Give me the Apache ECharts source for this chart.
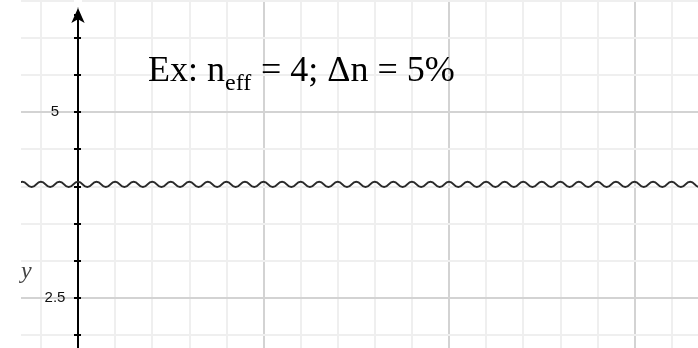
<!DOCTYPE html>
<html>
<head>
<meta charset="utf-8">
<script src="https://cdn.jsdelivr.net/npm/echarts@6/dist/echarts.min.js"></script>
<style>
  html, body { margin: 0; padding: 0; background: #fff; }
  #chart { width: 698px; height: 348px; }
</style>
</head>
<body>
<div id="chart"></div>
<script>
// tick labels drawn next to the y axis
const yLabels = [2.5, 5];

// ripple of n(x) around n_eff = 4, sampled at crests / troughs
const waveStart = -1;
const waveStep = 0.125;
const waveY = [
  4.064, 3.992, 4.064, 3.992, 4.064, 3.992, 4.064, 3.992,
  4.064, 3.992, 4.064, 3.992, 4.064, 3.992, 4.064, 3.992,
  4.064, 3.992, 4.064, 3.992, 4.064, 3.992, 4.064, 3.992,
  4.064, 3.992, 4.064, 3.992, 4.064, 3.992, 4.064, 3.992,
  4.064, 3.992, 4.064, 3.992, 4.064, 3.992, 4.064, 3.992,
  4.064, 3.992, 4.064, 3.992, 4.064, 3.992, 4.064, 3.992,
  4.064, 3.992, 4.064, 3.992, 4.064, 3.992, 4.064, 3.992,
  4.064, 3.992, 4.064, 3.992, 4.064, 3.992, 4.064, 3.992,
  4.064, 3.992, 4.064, 3.992, 4.064, 3.992, 4.064, 3.992,
  4.064, 3.992, 4.064, 3.992, 4.064
];

const waveData = waveY.map((v, i) => [waveStart + i * waveStep, v]);

const chart = echarts.init(document.getElementById('chart'));

const hidden = {
  axisLine: { show: false },
  axisTick: { show: false },
  axisLabel: { show: false }
};
const MINOR = '#efefef';
const MAJOR = '#d3d3d3';
const minorLine = { show: true, lineStyle: { color: MINOR, width: 2 } };
const majorLine = { show: true, lineStyle: { color: MAJOR, width: 2 } };

const option = {
  animation: false,
  grid: [
    // background grid, larger than the canvas so ticks start on round values
    { left: -107.5, right: -122, top: -74, bottom: -136, containLabel: false, outerBoundsMode: 'none' },
    // grid whose left edge is x = 0: holds the visible y axis, arrow and labels
    { left: 78, right: 0, top: 15, bottom: -136, containLabel: false, outerBoundsMode: 'none' }
  ],
  xAxis: [
    Object.assign({ gridIndex: 0, type: 'value', min: -2.5, max: 10, interval: 0.5, splitLine: minorLine, z: 0 }, hidden),
    Object.assign({ gridIndex: 0, type: 'value', min: -2.5, max: 10, interval: 2.5, splitLine: majorLine, z: 1 }, hidden),
    Object.assign({ gridIndex: 1, type: 'value', min: 0, max: 1, splitLine: { show: false } }, hidden)
  ],
  yAxis: [
    {
      gridIndex: 0, type: 'value', min: 0, max: 7.5, interval: 0.5, z: 3,
      axisLine: { show: false, onZero: true },
      axisTick: { show: true, inside: true, length: 3, lineStyle: { color: '#000', width: 2 } },
      axisLabel: { show: false },
      // every fifth line (0, 2.5, 5 ...) is a major one
      splitLine: { show: true, lineStyle: { color: [MAJOR, MINOR, MINOR, MINOR, MINOR], width: 2 } }
    },
    {
      gridIndex: 1, type: 'value', position: 'left', min: 0, max: 6.304, interval: 0.5, z: 4,
      axisLine: {
        show: true, onZero: false,
        symbol: ['none', 'arrow'], symbolSize: [10, 15], symbolOffset: [0, 7],
        lineStyle: { color: '#000', width: 2 }
      },
      axisTick: { show: true, length: 4, lineStyle: { color: '#000', width: 2 } },
      axisLabel: {
        show: true, margin: 23, align: 'center', color: '#111', fontSize: 15,
        fontFamily: 'Liberation Sans', padding: [3, 0, 0, 0],
        formatter: function (v) {
          const n = Number(v);
          for (let i = 0; i < yLabels.length; i++) {
            if (Math.abs(yLabels[i] - n) < 1e-6) return String(yLabels[i]);
          }
          return '';
        }
      },
      splitLine: { show: false }
    }
  ],
  series: [
    {
      type: 'line',
      xAxisIndex: 0,
      yAxisIndex: 0,
      data: waveData,
      smooth: true,
      showSymbol: false,
      silent: true,
      lineStyle: { color: '#2a2a2a', width: 2 },
      z: 5
    }
  ],
  graphic: [
    // the plot area of the original is cut at the left
    { type: 'rect', shape: { x: 0, y: 0, width: 21, height: 348 }, style: { fill: '#fff' }, z: 50 },
    // no grid line above the arrow tip
    { type: 'rect', shape: { x: 74, y: 0, width: 8, height: 7 }, style: { fill: '#fff' }, z: 50 },
    { type: 'text', x: 21, y: 272, z: 60,
      style: { text: 'y', font: 'italic 24px "Liberation Serif"', fill: '#444', align: 'left', verticalAlign: 'middle' } },
    { type: 'text', x: 148, y: 71.5, z: 60,
      style: { text: 'Ex: n', font: '36px "Liberation Serif"', fill: '#000', align: 'left', verticalAlign: 'middle' } },
    { type: 'text', x: 225, y: 83.5, z: 60,
      style: { text: 'eff', font: '24px "Liberation Serif"', fill: '#000', align: 'left', verticalAlign: 'middle' } },
    { type: 'text', x: 261, y: 71.5, z: 60,
      style: { text: '= 4; Δn = 5%', font: '36px "Liberation Serif"', fill: '#000', align: 'left', verticalAlign: 'middle' } }
  ]
};

chart.setOption(option);
</script>
</body>
</html>
